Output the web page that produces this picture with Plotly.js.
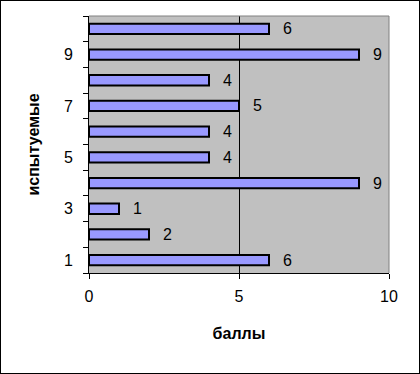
<!DOCTYPE html>
<html>
<head>
<meta charset="utf-8">
<script src="https://cdn.plot.ly/plotly-3.0.1.min.js"></script>
<style>
html,body{margin:0;padding:0;background:#fff;}
#wrap{position:relative;width:420px;height:374px;}
#chart{width:420px;height:374px;}
#frame{position:absolute;left:0;top:0;width:418px;height:372px;border:1px solid #000;pointer-events:none;}
</style>
</head>
<body>
<div id="wrap"><div id="chart"></div><div id="frame"></div></div>
<script>
const subjects = [1, 2, 3, 4, 5, 6, 7, 8, 9, 10];
const scores = [6, 2, 1, 9, 4, 4, 5, 4, 9, 6];
const yTickVals = [1, 3, 5, 7, 9];
const xTickVals = [0, 5, 10];

const font = {family: 'Liberation Sans, Arial, sans-serif', size: 16, color: '#000'};

const trace = {
  type: 'bar',
  orientation: 'h',
  x: scores,
  y: subjects,
  width: 0.4,
  marker: {color: '#9999FF', line: {color: '#000', width: 2}},
  hoverinfo: 'none'
};

const annotations = scores.map((v, i) => ({
  x: v, y: subjects[i], xref: 'x', yref: 'y',
  text: String(v), showarrow: false, xanchor: 'left', yanchor: 'middle',
  xshift: 12, font: font
}));

const layout = {
  width: 420, height: 374,
  margin: {l: 89, r: 31, t: 16, b: 101},
  paper_bgcolor: '#fff',
  plot_bgcolor: '#C0C0C0',
  font: font,
  showlegend: false,
  xaxis: {
    range: [0, 10], tickvals: xTickVals, ticktext: xTickVals.map(String),
    ticks: 'outside', ticklen: 5, tickcolor: '#000', tickwidth: 1,
    showline: true, linecolor: '#000', linewidth: 1,
    showgrid: true, gridcolor: '#000', gridwidth: 1,
    zeroline: false, fixedrange: true, ticklabelstandoff: 4,
    title: {text: 'баллы', font: {family: font.family, size: 16, color: '#000', weight: 'bold'}, standoff: 23}
  },
  yaxis: {
    range: [0.5, 10.5], tickvals: yTickVals, ticktext: yTickVals.map(String),
    ticks: 'outside', ticklen: 12, tickcolor: 'rgba(0,0,0,0)',
    minor: {tickmode: 'linear', tick0: 0.5, dtick: 1, ticks: 'outside', ticklen: 5, tickcolor: '#000', tickwidth: 1, showgrid: false},
    showline: true, linecolor: '#000', linewidth: 1,
    showgrid: false, zeroline: false, fixedrange: true,
    title: {text: 'испытуемые', font: {family: font.family, size: 16, color: '#000', weight: 'bold'}, standoff: 20}
  },
  annotations: annotations,
  shapes: [
    {type: 'line', xref: 'paper', yref: 'paper', x0: 0, x1: 1, y0: 1, y1: 1, line: {color: '#808080', width: 1}, layer: 'above'},
    {type: 'line', xref: 'paper', yref: 'paper', x0: 1, x1: 1, y0: 0, y1: 1, line: {color: '#808080', width: 1}, layer: 'above'}
  ]
};

Plotly.newPlot('chart', [trace], layout, {staticPlot: true, displayModeBar: false});
</script>
</body>
</html>
